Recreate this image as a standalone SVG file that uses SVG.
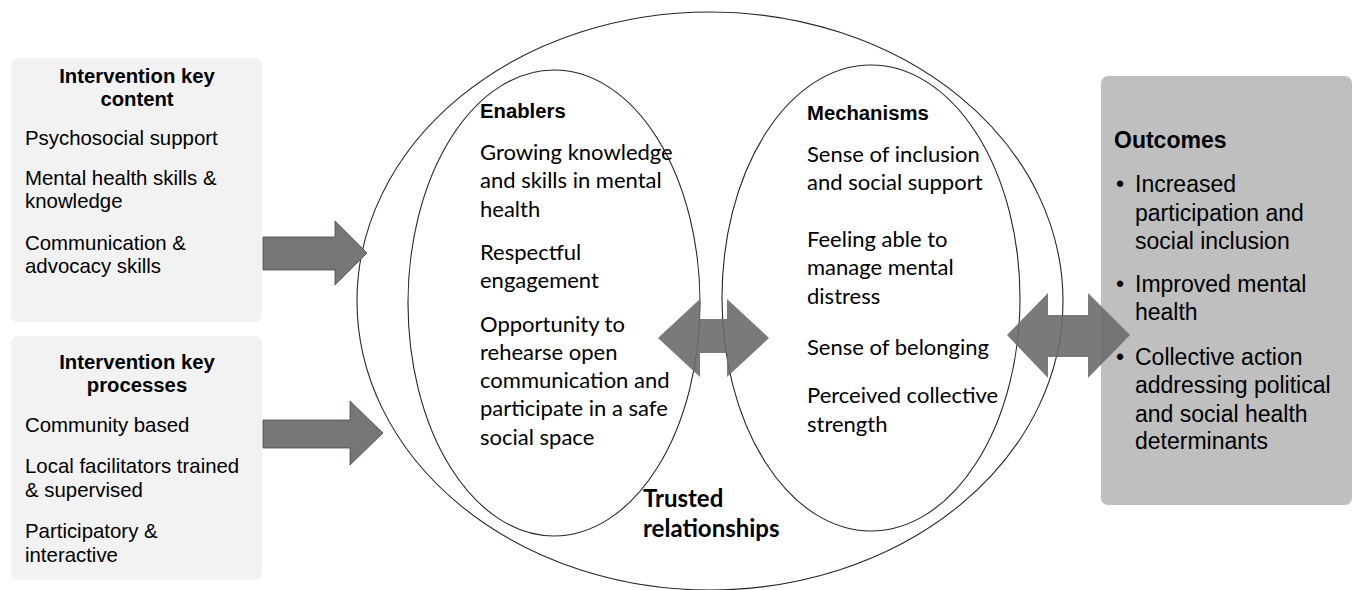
<svg xmlns="http://www.w3.org/2000/svg" width="1354" height="590" viewBox="0 0 1354 590">
<style>
.box{fill:#f2f2f2}
.out{fill:#bfbfbf}
.ell{fill:none;stroke:#262626;stroke-width:1.1}
.arr{fill:#767676;stroke:#3d4b5c;stroke-width:0.8}
.darr{fill:#6b6b6b;fill-opacity:0.9}
.h{font-family:"Liberation Sans",Arial,sans-serif;font-weight:bold;font-size:20.3px;fill:#000}
.t{font-family:"Liberation Sans",Arial,sans-serif;font-size:20.4px;fill:#000}
.c{font-family:Lato,"Open Sans",sans-serif;font-size:22px;fill:#000}
.cb{font-family:Lato,"Open Sans",sans-serif;font-weight:bold;font-size:24px;fill:#000}
.o{font-family:"Liberation Sans",Arial,sans-serif;font-size:23px;fill:#000}
.ob{font-family:"Liberation Sans",Arial,sans-serif;font-weight:bold;font-size:23px;fill:#000}
</style>
<rect width="1354" height="590" fill="#fff"/>
<g id="content-box">
<rect class="box" x="11" y="58" width="251" height="264" rx="7"/>
<text class="h" text-anchor="middle" x="137" y="83">Intervention key</text>
<text class="h" text-anchor="middle" x="137" y="106">content</text>
<text class="t" x="25" y="145">Psychosocial support</text>
<text class="t" x="25" y="185">Mental health skills &amp;</text>
<text class="t" x="25" y="208">knowledge</text>
<text class="t" x="25" y="250">Communication &amp;</text>
<text class="t" x="25" y="273">advocacy skills</text>
</g>
<g id="process-box">
<rect class="box" x="11" y="336" width="251" height="244" rx="7"/>
<text class="h" text-anchor="middle" x="137" y="369">Intervention key</text>
<text class="h" text-anchor="middle" x="137" y="392">processes</text>
<text class="t" x="25" y="432">Community based</text>
<text class="t" x="25" y="473">Local facilitators trained</text>
<text class="t" x="25" y="497">&amp; supervised</text>
<text class="t" x="25" y="538">Participatory &amp;</text>
<text class="t" x="25" y="562">interactive</text>
</g>
<g id="trusted-relationships">
<ellipse class="ell" cx="710" cy="301" rx="353" ry="289"/>
<text class="cb" x="643" y="507">Trusted</text>
<text class="cb" x="643" y="537">relationships</text>
</g>
<g id="enablers">
<ellipse class="ell" cx="554" cy="303" rx="146" ry="233"/>
<text class="h" x="480" y="118">Enablers</text>
<text class="c" x="480" y="160">Growing knowledge</text>
<text class="c" x="480" y="188">and skills in mental</text>
<text class="c" x="480" y="217">health</text>
<text class="c" x="480" y="260">Respectful</text>
<text class="c" x="480" y="288">engagement</text>
<text class="c" x="480" y="332">Opportunity to</text>
<text class="c" x="480" y="360">rehearse open</text>
<text class="c" x="480" y="388">communication and</text>
<text class="c" x="480" y="416">participate in a safe</text>
<text class="c" x="480" y="445">social space</text>
</g>
<g id="mechanisms">
<ellipse class="ell" cx="871" cy="298" rx="149" ry="233"/>
<text class="h" x="807" y="120">Mechanisms</text>
<text class="c" x="807" y="162">Sense of inclusion</text>
<text class="c" x="807" y="190">and social support</text>
<text class="c" x="807" y="247">Feeling able to</text>
<text class="c" x="807" y="275">manage mental</text>
<text class="c" x="807" y="304">distress</text>
<text class="c" x="807" y="355">Sense of belonging</text>
<text class="c" x="807" y="403">Perceived collective</text>
<text class="c" x="807" y="432">strength</text>
</g>
<g id="outcomes">
<rect class="out" x="1101" y="76" width="251" height="429" rx="7"/>
<text class="ob" x="1114" y="148">Outcomes</text>
<text class="o" x="1116" y="192">•</text>
<text class="o" x="1135" y="192">Increased</text>
<text class="o" x="1135" y="221">participation and</text>
<text class="o" x="1135" y="249">social inclusion</text>
<text class="o" x="1116" y="292">•</text>
<text class="o" x="1135" y="292">Improved mental</text>
<text class="o" x="1135" y="320">health</text>
<text class="o" x="1116" y="365">•</text>
<text class="o" x="1135" y="365">Collective action</text>
<text class="o" x="1135" y="393">addressing political</text>
<text class="o" x="1135" y="422">and social health</text>
<text class="o" x="1135" y="449">determinants</text>
</g>
<g id="connectors">
<polygon class="arr" points="263,237 335,237 335,221 367,253 335,285 335,270 263,270"/>
<polygon class="arr" points="263,420 350,420 350,401 383,433 350,465 350,448 263,448"/>
<polygon class="darr" points="658,338 700,299 700,319 727,319 727,299 769,338 727,377 727,353 700,353 700,377"/>
<polygon class="darr" points="1007,335 1048,293 1048,315 1088,315 1088,293 1130,335 1088,378 1088,357 1048,357 1048,378"/>
</g>
</svg>
